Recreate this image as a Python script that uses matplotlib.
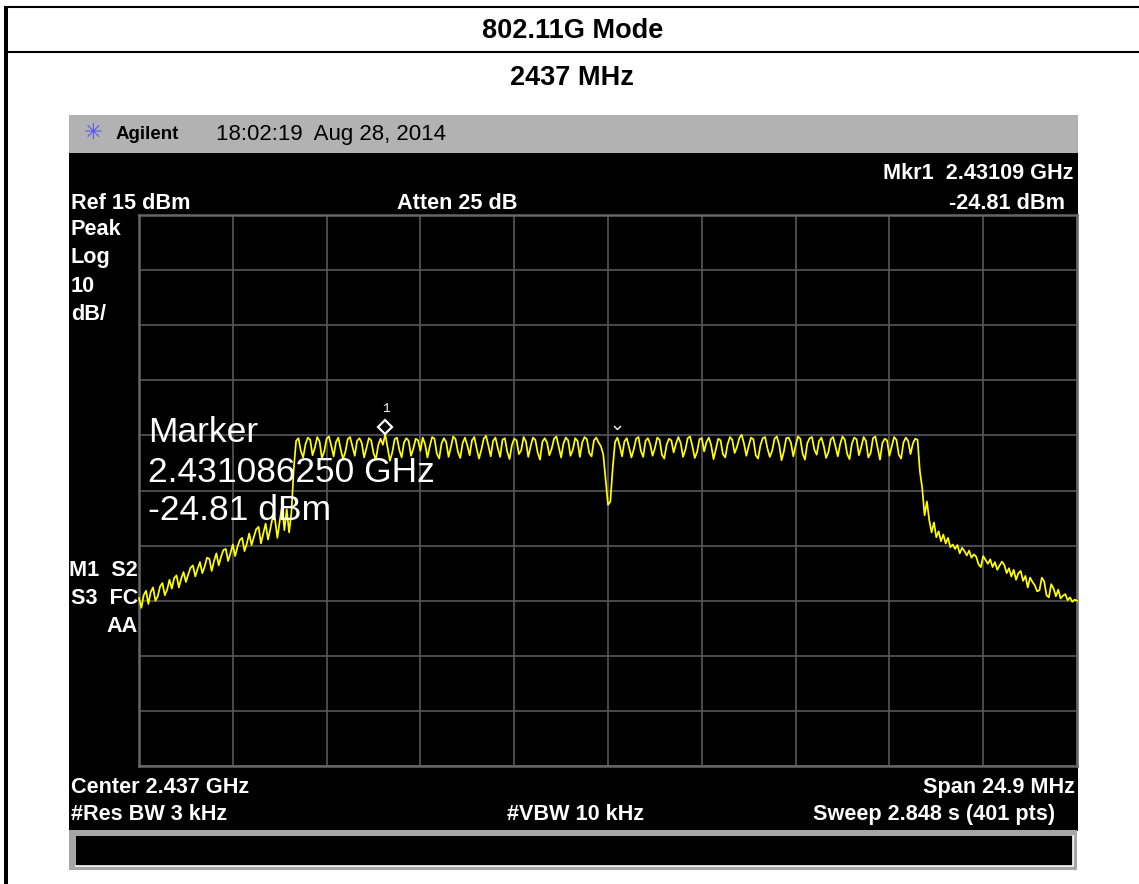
import numpy as np
import matplotlib
matplotlib.use("Agg")
import matplotlib.pyplot as plt
from matplotlib.patches import Rectangle
from matplotlib.path import Path
import matplotlib.transforms as mtransforms

# ---------------- data ----------------
title_mode = "802.11G Mode"
title_freq = "2437 MHz"
center_ghz = 2.437
span_mhz = 24.9
ref_dbm = 15
db_per_div = 10
n_div = 10

marker_freq_ghz = 2.43109
marker_level_dbm = -24.81
marker_freq_text = "2.431086250 GHz"
chevron_idx = 204

skirt_left = [
    -54.5, -56.3, -54.0, -53.2, -55.6, -53.4, -52.6, -55.0, -54.2, -52.4,
    -51.8, -54.0, -53.0, -51.2, -52.8, -50.9, -50.4, -52.6, -51.0, -49.8,
    -51.6, -50.2, -49.0, -48.6, -50.6, -49.2, -48.0, -50.0, -48.8, -47.2,
    -47.4, -49.6, -47.8, -46.4, -48.6, -47.0, -45.8, -45.6, -47.8, -46.4,
    -44.8, -46.9, -45.2, -44.0, -43.6, -46.0, -44.6, -42.8, -44.9, -43.4,
    -42.0, -41.6, -44.6, -42.8, -41.0, -43.9, -42.0, -39.8, -40.2, -43.6,
    -40.6, -37.8, -42.2, -38.4, -42.6, -39.0, -31.0,
]
flat_top = [
    -26.0, -25.5, -27.8, -29.0, -26.6, -25.4, -25.8, -28.6, -27.2, -25.3,
    -26.1, -29.1, -27.9, -25.6, -25.2, -26.9, -28.8, -26.2, -25.4, -27.5,
    -29.3, -28.0, -25.7, -25.3, -27.0, -28.7, -26.0, -25.5, -26.4, -29.0,
    -27.3, -25.5, -25.9, -28.2, -29.4, -26.8, -25.6, -26.7,
    -24.81,
    -27.2, -29.6, -28.1, -25.7, -25.4, -27.6, -29.0, -26.3, -25.5, -26.0,
    -28.7, -27.4, -25.6, -25.9, -27.8, -25.4, -26.6, -29.0, -27.0, -25.3,
    -25.6, -28.3, -29.2, -26.5, -25.5, -26.2, -28.9, -27.1, -25.2, -25.7,
    -28.0, -29.1, -26.4, -25.4, -26.8, -28.6, -25.9, -25.3, -27.4, -29.2,
    -27.6, -25.6, -25.1, -26.9, -28.8, -26.0, -25.4, -27.3, -28.9, -25.8,
    -25.5, -27.9, -29.3, -26.8, -25.6, -25.9, -28.4, -27.7, -25.3, -26.1,
    -28.9, -27.0, -25.4, -25.8, -28.1, -29.4, -26.2, -25.5, -26.3, -28.6,
    -27.4, -25.6, -25.2, -27.1, -29.0, -26.5, -25.4, -25.9, -28.7, -27.6,
    -25.5, -26.0, -28.9, -26.3, -25.3, -25.7, -28.2, -28.8, -25.9, -25.4,
    -26.3, -27.0,
    -28.5, -33.0, -37.6, -37.0, -31.0, -26.2,
    -25.4, -26.9, -28.8, -26.1, -25.5, -27.2, -29.0, -27.5, -25.6, -25.3,
    -27.8, -28.9, -26.0, -25.5, -26.6, -28.7, -27.3, -25.4, -25.8, -28.5,
    -29.2, -26.7, -25.6, -25.9, -28.1, -26.5, -25.3, -26.4, -28.9, -27.6,
    -25.5, -25.2, -27.0, -29.1, -28.0, -25.7, -25.5, -27.9, -26.2, -25.4,
    -26.8, -29.3, -27.5, -25.6, -25.9, -28.4, -29.0, -26.6, -25.3, -25.8,
    -28.2, -27.1, -25.5, -24.9, -26.5, -28.7, -26.9, -25.4, -25.7, -28.6,
    -29.2, -26.8, -25.5, -25.3, -27.4, -28.9, -27.8, -25.6, -25.2, -26.7,
    -29.5, -27.9, -25.5, -25.4, -26.3, -28.8, -26.9, -25.2, -25.6, -28.3,
    -29.4, -26.4, -25.5, -25.3, -27.6, -28.5, -26.0, -25.4, -26.9, -29.1,
    -28.0, -25.7, -25.3, -27.0, -28.8, -26.6, -25.2, -25.8, -28.4, -29.3,
    -26.5, -25.4, -25.7, -28.6, -27.1, -25.3, -26.0, -29.0, -28.2, -25.5,
    -25.2, -27.3, -29.4, -26.4, -25.6, -25.9, -28.7, -27.0, -25.3, -25.8,
    -28.5, -29.2, -26.3, -25.4, -26.0, -28.4, -26.5, -25.6, -25.8,
]
skirt_right = [
    -31.5, -34.6, -39.5, -37.0, -40.4, -42.6, -40.8, -43.5, -42.4, -44.2,
    -43.0, -44.6, -43.6, -45.3, -44.8, -45.6, -44.9, -46.4, -45.4, -46.0,
    -46.8, -45.9, -47.2, -46.6, -47.0, -48.4, -48.9, -46.9, -47.6, -48.3,
    -47.5, -48.9, -48.0, -49.4, -48.6, -47.9, -48.5, -50.0, -49.1, -50.6,
    -49.4, -51.2, -50.0, -49.6, -51.4, -50.5, -52.6, -50.8, -51.6, -52.2,
    -53.3, -53.1, -50.8, -51.5, -54.0, -54.4, -52.0, -52.8, -54.2, -53.0,
    -54.6, -54.1, -53.8, -54.9, -54.4, -55.2, -54.8, -55.0,
]

trace_dbm = np.array(skirt_left + flat_top + skirt_right)
f_start = center_ghz - span_mhz / 2000.0
f_stop = center_ghz + span_mhz / 2000.0
freq_ghz = np.linspace(f_start, f_stop, len(trace_dbm))

# ---------------- layout ----------------
W, H = 1139, 884
fig = plt.figure(figsize=(W / 100, H / 100), dpi=100)
fig.patch.set_facecolor("white")

bg = fig.add_axes([0, 0, 1, 1])
bg.set_xlim(0, W)
bg.set_ylim(H, 0)
bg.axis("off")

FONT = "Liberation Sans"

# outer table frame
bg.add_patch(Rectangle((4, 7), 4, H - 7, facecolor="black", edgecolor="none"))
bg.plot([4, W], [7, 7], color="black", lw=1.5, solid_capstyle="butt")
bg.plot([8, W], [52, 52], color="black", lw=1.5, solid_capstyle="butt")

bg.text(573, 38, title_mode, ha="center", va="baseline", fontsize=19.5,
        fontweight="bold", family=FONT, color="black")
bg.text(572, 85, title_freq, ha="center", va="baseline", fontsize=19.5,
        fontweight="bold", family=FONT, color="black")

# analyzer screen
bg.add_patch(Rectangle((69, 115), 1009, 38, facecolor="#b2b2b2", edgecolor="none"))
bg.add_patch(Rectangle((69, 153), 1009, 678, facecolor="black", edgecolor="none"))
bg.add_patch(Rectangle((69, 830), 1008, 40, facecolor="#a6a6a6", edgecolor="none"))
bg.add_patch(Rectangle((76, 836), 997, 30, facecolor="black", edgecolor="none"))
bg.plot([76, 1073, 1073], [866, 866, 836], color="white", lw=1.2)

bg.text(93, 133, "\u2733", ha="center", va="center", fontsize=16,
        family="DejaVu Sans", color="#5555ff")
bg.text(116, 139, "Agilent", ha="left", va="baseline", fontsize=13.5,
        fontweight="bold", family=FONT, color="black")
bg.text(216, 140, "18:02:19  Aug 28, 2014", ha="left", va="baseline",
        fontsize=16, family=FONT, color="black")

ann = dict(va="baseline", fontsize=15.6, fontweight="bold", family=FONT, color="white")
bg.text(1073, 179, "Mkr1  2.43109 GHz", ha="right", **ann)
bg.text(71, 209, "Ref 15 dBm", ha="left", **ann)
bg.text(397, 209, "Atten 25 dB", ha="left", **ann)
bg.text(1065, 209, "-24.81 dBm", ha="right", **ann)
for txt, yb in [("Peak", 235), ("Log", 263), ("10", 292), ("dB/", 320)]:
    bg.text(71, yb, txt, ha="left", **ann)
for txt, yb in [("M1  S2", 576), ("S3  FC", 604), ("AA", 632)]:
    bg.text(138, yb, txt, ha="right", **ann)
bg.text(71, 793, "Center 2.437 GHz", ha="left", **ann)
bg.text(1075, 793, "Span 24.9 MHz", ha="right", **ann)
bg.text(71, 820, "#Res BW 3 kHz", ha="left", **ann)
bg.text(507, 820, "#VBW 10 kHz", ha="left", **ann)
bg.text(1055, 820, "Sweep 2.848 s (401 pts)", ha="right", **ann)

# ---------------- trace axes ----------------
gl, gr, gt, gb = 139, 1077, 215, 766
ax = fig.add_axes([gl / W, 1 - gb / H, (gr - gl) / W, (gb - gt) / H])
ax.set_facecolor("black")
ax.set_xlim(f_start, f_stop)
ax.set_ylim(ref_dbm - db_per_div * n_div, ref_dbm)
ax.set_xticks(np.linspace(f_start, f_stop, n_div + 1))
ax.set_yticks(np.linspace(ref_dbm - db_per_div * n_div, ref_dbm, n_div + 1))
ax.tick_params(length=0, labelbottom=False, labelleft=False)
ax.grid(True, color="#575757", lw=1.2)
ax.set_axisbelow(True)
for s in ax.spines.values():
    s.set_color("#666666")
    s.set_linewidth(1.8)

ax.plot(freq_ghz, trace_dbm, color="#ffff00", lw=1.25, zorder=3, clip_on=False)

# marker 1 diamond just above the trace point
mk_tr = mtransforms.offset_copy(ax.transData, fig=fig, x=0, y=7, units="dots")
ax.plot([marker_freq_ghz], [marker_level_dbm], marker="D", markersize=7,
        markerfacecolor="none", markeredgecolor="white", markeredgewidth=1.6,
        transform=mk_tr, zorder=4, clip_on=False)
lbl_tr = mtransforms.offset_copy(ax.transData, fig=fig, x=0, y=19, units="dots")
ax.text(marker_freq_ghz, marker_level_dbm, "1", transform=lbl_tr, ha="center",
        va="bottom", fontsize=9, family="Liberation Mono", color="white")

# small chevron marker
chev = Path([(-1, 1), (0, 0), (1, 1)], [Path.MOVETO, Path.LINETO, Path.LINETO])
ch_tr = mtransforms.offset_copy(ax.transData, fig=fig, x=0, y=9, units="dots")
ax.plot([freq_ghz[chevron_idx]], [trace_dbm[chevron_idx]], marker=chev,
        markersize=5, markerfacecolor="none", markeredgecolor="white",
        markeredgewidth=1.0, transform=ch_tr, zorder=4, clip_on=False)

# marker readout text (on top of trace)
txt_ax = fig.add_axes([0, 0, 1, 1])
txt_ax.set_xlim(0, W)
txt_ax.set_ylim(H, 0)
txt_ax.axis("off")
mk_font = dict(ha="left", va="baseline", fontsize=25.5, family=FONT, color="white")
txt_ax.text(148, 442, "Marker", **mk_font)
txt_ax.text(148, 482, marker_freq_text, **mk_font)
txt_ax.text(148, 520, f"{marker_level_dbm:.2f} dBm", **mk_font)

fig.savefig("out.png", dpi=100)
